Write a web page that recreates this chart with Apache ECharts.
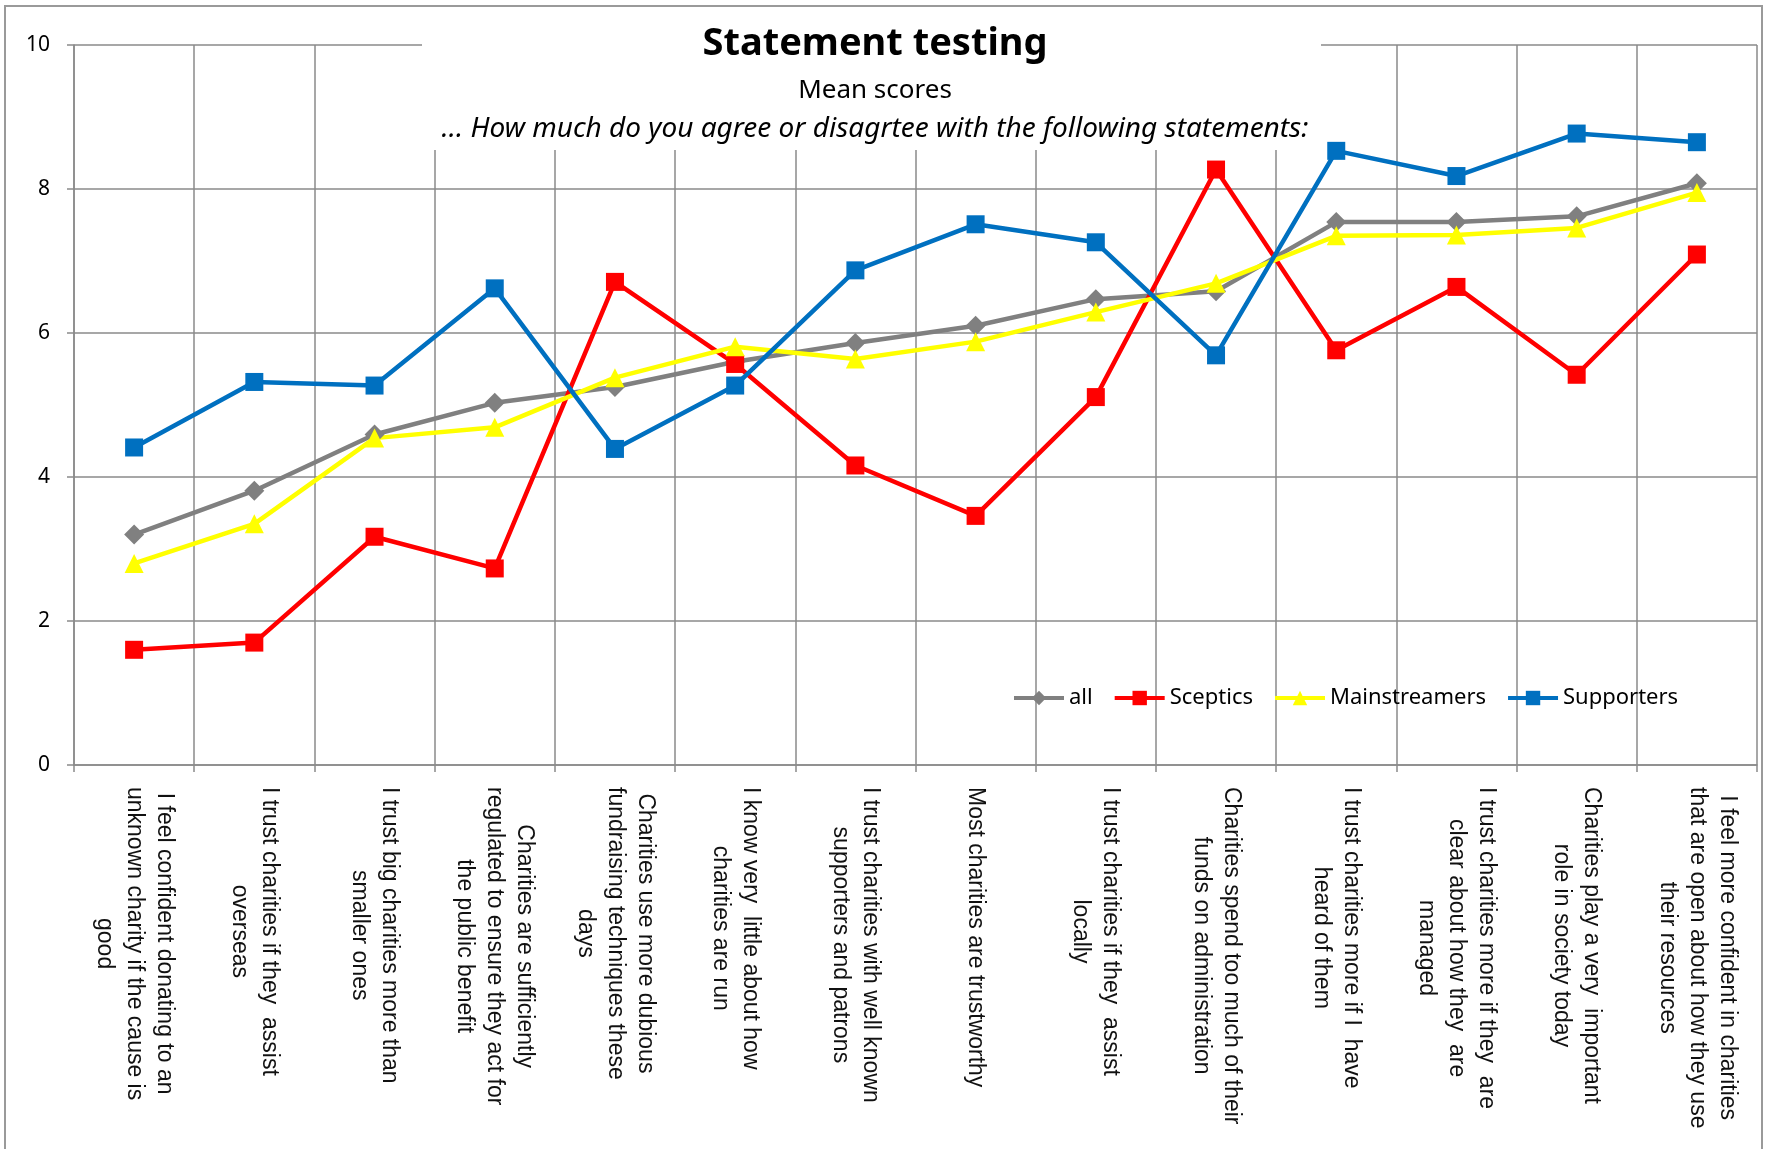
<!DOCTYPE html>
<html>
<head>
<meta charset="utf-8">
<script src="https://cdn.jsdelivr.net/npm/echarts@6/dist/echarts.min.js"></script>
<style>
  html, body { margin: 0; padding: 0; background: #fff; }
  #main { width: 1766px; height: 1149px; }
</style>
</head>
<body>
<div id="main"></div>
<script>
// statements (line breaks as in the original chart)
const statements = [
    'I feel confident donating to an\nunknown charity if the cause is\ngood',
    'I trust charities if they  assist\noverseas',
    'I trust big charities more than\nsmaller ones',
    'Charities are sufficiently\nregulated to ensure they act for\nthe public benefit',
    'Charities use more dubious\nfundraising techniques these\ndays',
    'I know very  little about how\ncharities are run',
    'I trust charities with well known\nsupporters and patrons',
    'Most charities are trustworthy',
    'I trust charities if they  assist\nlocally',
    'Charities spend too much of their\nfunds on administration',
    'I trust charities more if I  have\nheard of them',
    'I trust charities more if they  are\nclear about how they  are\nmanaged',
    'Charities play a very  important\nrole in society today',
    'I feel more confident in charities\nthat are open about how they use\ntheir resources'
];

// mean scores per segment
const allScores = [3.20, 3.81, 4.59, 5.03, 5.25, 5.60, 5.86, 6.10, 6.47, 6.58, 7.54, 7.54, 7.62, 8.08];
const sceptics = [1.60, 1.70, 3.17, 2.73, 6.71, 5.57, 4.16, 3.46, 5.11, 8.27, 5.76, 6.64, 5.42, 7.09];
const mainstreamers = [2.80, 3.35, 4.54, 4.69, 5.38, 5.81, 5.64, 5.88, 6.29, 6.69, 7.35, 7.36, 7.46, 7.95];
const supporters = [4.41, 5.32, 5.27, 6.62, 4.39, 5.27, 6.87, 7.51, 7.26, 5.69, 8.53, 8.18, 8.77, 8.65];

const yTicks = [0, 2, 4, 6, 8, 10];

const gridColor = '#8a8a8a';
const labelFont = 'Liberation Sans';
const textFont = 'Noto Sans';

const option = {
    animation: false,
    backgroundColor: '#fff',
    title: [
        {
            text: 'Statement testing',
            left: 870,
            top: 20,
            textAlign: 'center',
            textStyle: { fontFamily: textFont, fontSize: 38, fontWeight: 'bold', color: '#000' }
        },
        {
            text: 'Mean scores',
            left: 870,
            top: 73,
            textAlign: 'center',
            textStyle: { fontFamily: textFont, fontSize: 26, fontWeight: 'normal', color: '#000' }
        },
        {
            text: '... How much do you agree or disagrtee with the following statements:',
            left: 870,
            top: 110,
            textAlign: 'center',
            textStyle: { fontFamily: textFont, fontSize: 28, fontStyle: 'italic', fontWeight: 'normal', color: '#000' }
        }
    ],
    legend: {
        left: 1007,
        top: 682,
        itemWidth: 50,
        itemHeight: 18,
        itemGap: 20,
        lineStyle: { width: 4 },
        textStyle: { fontFamily: textFont, fontSize: 22, color: '#000' },
        data: ['all', 'Sceptics', 'Mainstreamers', 'Supporters']
    },
    grid: {
        left: 74,
        right: 9,
        top: 45,
        bottom: 384,
        containLabel: false
    },
    graphic: [
        {
            type: 'rect',
            z: 1,
            shape: { x: 422, y: 9, width: 899, height: 141 },
            style: { fill: '#fff' }
        },
        {
            type: 'rect',
            z: 100,
            shape: { x: 5, y: 6, width: 1757, height: 1160 },
            style: { fill: 'none', stroke: '#9a9a9a', lineWidth: 2 }
        }
    ],
    xAxis: {
        type: 'category',
        data: statements,
        boundaryGap: true,
        axisLine: { lineStyle: { color: gridColor, width: 1.5 } },
        axisTick: { show: true, length: 7, lineStyle: { color: gridColor, width: 1.5 } },
        splitLine: { show: true, lineStyle: { color: gridColor, width: 1.5 } },
        axisLabel: {
            interval: 0,
            rotate: -90,
            margin: 22,
            color: '#000',
            fontFamily: labelFont,
            fontSize: 23,
            lineHeight: 30,
            formatter: v => v.split('\n').map(l => '{c|' + l + '}').join('\n'),
            rich: {
                c: { align: 'center', fontFamily: labelFont, fontSize: 23, lineHeight: 30, color: '#111' }
            }
        }
    },
    yAxis: {
        type: 'value',
        min: yTicks[0],
        max: yTicks[yTicks.length - 1],
        interval: yTicks[1] - yTicks[0],
        axisLine: { show: true, lineStyle: { color: gridColor, width: 1.5 } },
        axisTick: { show: true, length: 7, lineStyle: { color: gridColor, width: 1.5 } },
        splitLine: { show: true, lineStyle: { color: gridColor, width: 1.5 } },
        axisLabel: { margin: 24, color: '#000', fontFamily: textFont, fontSize: 21 }
    },
    series: [
        {
            name: 'all',
            type: 'line',
            data: allScores,
            symbol: 'diamond',
            symbolSize: 20,
            itemStyle: { color: '#808080' },
            lineStyle: { color: '#808080', width: 4.5 }
        },
        {
            name: 'Sceptics',
            type: 'line',
            data: sceptics,
            symbol: 'rect',
            symbolSize: 18,
            itemStyle: { color: '#ff0000' },
            lineStyle: { color: '#ff0000', width: 4.5 }
        },
        {
            name: 'Mainstreamers',
            type: 'line',
            data: mainstreamers,
            symbol: 'triangle',
            symbolSize: 19,
            itemStyle: { color: '#ffff00' },
            lineStyle: { color: '#ffff00', width: 4.5 }
        },
        {
            name: 'Supporters',
            type: 'line',
            data: supporters,
            symbol: 'rect',
            symbolSize: 18,
            itemStyle: { color: '#0070c0' },
            lineStyle: { color: '#0070c0', width: 4.5 }
        }
    ]
};

const myChart = echarts.init(document.getElementById('main'));
myChart.setOption(option);
</script>
</body>
</html>
